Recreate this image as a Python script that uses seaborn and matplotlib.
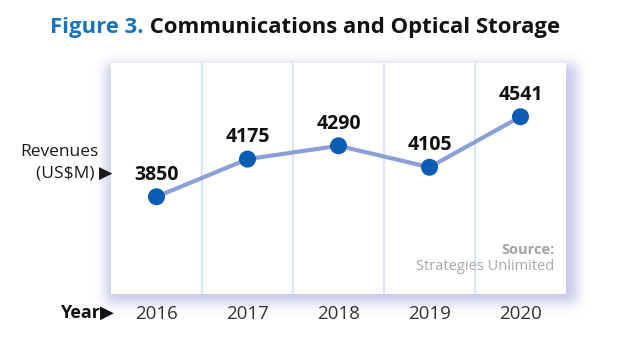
import numpy as np
import pandas as pd
import matplotlib
matplotlib.use("Agg")
import matplotlib.pyplot as plt
import seaborn as sns

# Revenue series
years = ["2016", "2017", "2018", "2019", "2020"]
revenues = [3850, 4175, 4290, 4105, 4541]

title_lead = "Figure 3."
title_rest = " Communications and Optical Storage"
y_label_lines = ["Revenues", "(US$M) \u25B6"]
x_label = "Year\u25B6"
source_head = "Source:"
source_name = "Strategies Unlimited"

sns.set_theme(style="white")
plt.rcParams["font.family"] = ["Open Sans", "DejaVu Sans"]

W, H = 640, 347
fig = plt.figure(figsize=(W / 100, H / 100), dpi=100)
fig.patch.set_facecolor("white")

# plot frame in pixels
bx0, bx1, by0, by1 = 111, 566, 63, 294

# soft lavender drop shadow behind the frame
mask = np.zeros((H, W))
mask[by0 + 1:by1 + 9, bx0 - 5:bx1 + 11] = 1.0


def box_blur(a, r):
    for axis in (0, 1):
        pad = [(0, 0), (0, 0)]
        pad[axis] = (r + 1, r)
        p = np.pad(a, pad, mode="edge")
        c = np.cumsum(p, axis=axis)
        if axis == 0:
            a = (c[2 * r + 1:, :] - c[:-2 * r - 1, :]) / (2 * r + 1)
        else:
            a = (c[:, 2 * r + 1:] - c[:, :-2 * r - 1]) / (2 * r + 1)
    return a


for _ in range(3):
    mask = box_blur(mask, 5)
glow = np.zeros((H, W, 4))
glow[..., 0] = 0.66
glow[..., 1] = 0.66
glow[..., 2] = 0.87
glow[..., 3] = np.clip(mask * 0.62, 0, 1)
fig.figimage(glow, 0, 0, origin="upper", zorder=-5)

ax = fig.add_axes([bx0 / W, 1 - by1 / H, (bx1 - bx0) / W, (by1 - by0) / H])
ax.set_facecolor("white")
for s in ax.spines.values():
    s.set_visible(False)

df = pd.DataFrame({"pos": np.arange(len(years)), "rev": revenues})

for xv in np.arange(0.5, len(years) - 0.5, 1.0):
    ax.axvline(xv, color="#dde4f3", lw=1.6, zorder=1)

sns.lineplot(data=df, x="pos", y="rev", ax=ax, color="#8c9fd9", lw=3.0,
             zorder=2)
sns.scatterplot(data=df, x="pos", y="rev", ax=ax, color="#0b5cb3", s=150,
                edgecolor="none", zorder=3)

for xp, v in zip(df["pos"], df["rev"]):
    ax.annotate(f"{v}", (xp, v), xytext=(0, 16), textcoords="offset points",
                ha="center", va="center", fontsize=14, fontweight="bold",
                color="#111111")

ax.set_xlim(-0.5, len(years) - 0.5)
ax.set_ylim(3010, 5005)
ax.set_xticks(df["pos"])
ax.set_xticklabels(years, fontsize=13.5, color="#333333")
ax.tick_params(axis="x", length=0, pad=8)
ax.set_yticks([])
ax.set_xlabel("")
ax.set_ylabel("")

ax.text(0.975, 0.19, source_head, transform=ax.transAxes, ha="right",
        va="center", fontsize=10.5, fontweight="bold", color="#a3a3a3")
ax.text(0.975, 0.12, source_name, transform=ax.transAxes, ha="right",
        va="center", fontsize=10.5, color="#a8a8a8")

# title in two colours
t1 = fig.text(50 / W, 1 - 28 / H, title_lead, ha="left", va="center",
              fontsize=15.9, fontweight="bold", color="#1b74b8")
fig.canvas.draw()
bb = t1.get_window_extent()
fig.text(bb.x1 / W, 1 - 28 / H, title_rest, ha="left", va="center",
         fontsize=15.9, fontweight="bold", color="#111111")

fig.text(98 / W, 1 - 152 / H, y_label_lines[0], ha="right", va="center",
         fontsize=12.5, color="#1a1a1a")
fig.text(112 / W, 1 - 173 / H, y_label_lines[1], ha="right", va="center",
         fontsize=12.5, color="#1a1a1a")
fig.text(114 / W, 1 - 313 / H, x_label, ha="right", va="center",
         fontsize=13, fontweight="bold", color="#111111")

fig.savefig("out.png", dpi=100, facecolor="white")
